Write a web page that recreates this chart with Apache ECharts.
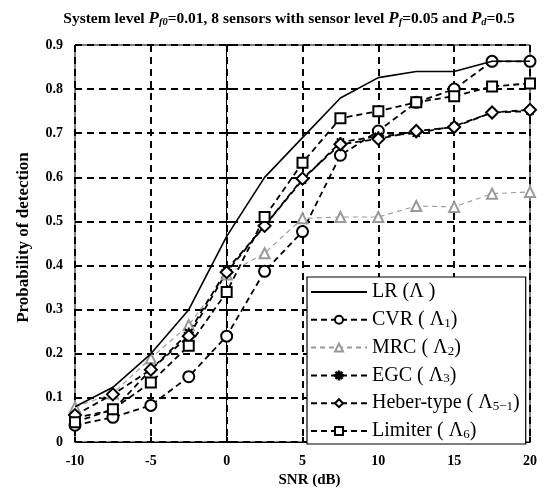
<!DOCTYPE html>
<html><head><meta charset="utf-8">
<script src="https://cdn.jsdelivr.net/npm/echarts@6/dist/echarts.min.js"></script>
<style>html,body{margin:0;padding:0;background:#fff}#c{width:548px;height:493px}</style>
</head><body><div id="c"></div>
<script>
const snr = [-10, -7.5, -5, -2.5, 0, 2.5, 5, 7.5, 10, 12.5, 15, 17.5, 20];
const lr      = [0.08, 0.124, 0.2, 0.3, 0.466, 0.6, 0.69, 0.78, 0.826, 0.84, 0.84, 0.863, 0.863];
const cvr     = [0.038, 0.056, 0.083, 0.148, 0.24, 0.387, 0.477, 0.65, 0.705, 0.77, 0.8, 0.863, 0.863];
const mrc     = [0.079, 0.11, 0.19, 0.265, 0.38, 0.428, 0.507, 0.51, 0.51, 0.535, 0.533, 0.563, 0.567];
const egc     = [0.055, 0.072, 0.164, 0.248, 0.39, 0.49, 0.594, 0.68, 0.693, 0.7, 0.716, 0.747, 0.75];
const heber   = [0.061, 0.108, 0.164, 0.24, 0.385, 0.49, 0.597, 0.675, 0.687, 0.705, 0.714, 0.747, 0.753];
const limiter = [0.045, 0.074, 0.135, 0.218, 0.34, 0.51, 0.633, 0.734, 0.75, 0.77, 0.784, 0.806, 0.813];
const yTicks = ['0', '0.1', '0.2', '0.3', '0.4', '0.5', '0.6', '0.7', '0.8', '0.9'];
const names = ['LR', 'CVR', 'MRC', 'EGC', 'Heber', 'Limiter'];

const pair = arr => snr.map((x, i) => [x, arr[i]]);
const star = 'path://M-0.8,-10 L0.8,-10 L0.8,10 L-0.8,10 Z M-10,-0.8 L10,-0.8 L10,0.8 L-10,0.8 Z M-7.6,-6.5 L-6.5,-7.6 L7.6,6.5 L6.5,7.6 Z M6.5,-7.6 L7.6,-6.5 L-6.5,7.6 L-7.6,6.5 Z';
const serif = '"Liberation Serif", "DejaVu Serif", serif';

function mk(name, data, opts) {
  return Object.assign({
    name: name, type: 'line', data: pair(data),
    symbolSize: 10, showSymbol: true,
    lineStyle: {color: '#000', width: 1.8, type: [6, 4]},
    itemStyle: {color: '#000', borderColor: '#000', borderWidth: 1.2},
    z: 3
  }, opts);
}

const chart = echarts.init(document.getElementById('c'));
chart.setOption({
  animation: false,
  backgroundColor: '#fff',
  title: {
    text: '{b|System level }{i|P}{s|f0}{b|=0.01, 8 sensors with sensor level }{i|P}{s|f}{b|=0.05 and }{i|P}{s|d}{b|=0.5}',
    left: 284, top: 5, textAlign: 'center',
    textStyle: {
      rich: {
        b: {fontFamily: serif, fontWeight: 'bold', fontSize: 15.5, color: '#000'},
        i: {fontFamily: serif, fontWeight: 'bold', fontStyle: 'italic', fontSize: 17, color: '#000'},
        s: {fontFamily: serif, fontWeight: 'bold', fontStyle: 'italic', fontSize: 10.5, color: '#000', verticalAlign: 'bottom', padding: [7, 0, 0, 0]}
      }
    }
  },
  grid: {left: 75, right: 18, top: 45, bottom: 48, show: true, borderColor: '#000', borderWidth: 1},
  xAxis: {
    type: 'value', min: -10, max: 20, interval: 5,
    name: 'SNR (dB)', nameLocation: 'middle', nameGap: 31,
    nameTextStyle: {fontFamily: serif, fontWeight: 'bold', fontSize: 15, color: '#000', padding: [0, 0, 0, 14]},
    axisLine: {lineStyle: {color: '#000', width: 1}},
    axisTick: {inside: true, length: 5, lineStyle: {color: '#000', width: 2}},
    axisLabel: {fontFamily: serif, fontWeight: 'bold', fontSize: 14, color: '#000', margin: 12},
    splitLine: {show: true, lineStyle: {color: '#000', width: 2, type: [7, 5]}}
  },
  yAxis: {
    type: 'value', min: 0, max: 0.9, interval: 0.1,
    name: 'Probability of detection', nameLocation: 'middle', nameGap: 43, nameRotate: 90,
    nameTextStyle: {fontFamily: serif, fontWeight: 'bold', fontSize: 17, color: '#000', padding: [0, 0, 0, 12]},
    axisLine: {lineStyle: {color: '#000', width: 1}},
    axisTick: {inside: true, length: 5, lineStyle: {color: '#000', width: 2}},
    axisLabel: {fontFamily: serif, fontWeight: 'bold', fontSize: 14, color: '#000', margin: 12,
      formatter: (v) => yTicks[Math.round(v * 10)]},
    splitLine: {show: true, lineStyle: {color: '#000', width: 2, type: [7, 5]}}
  },
  legend: {
    orient: 'vertical', left: 307, top: 277,
    backgroundColor: '#fff', borderColor: '#000', borderWidth: 1.2,
    padding: [5, 6, 3, 3], itemGap: 6.8, itemWidth: 56, itemHeight: 10,
    data: [{name: 'LR', itemStyle: {opacity: 0}}, 'CVR', 'MRC', 'EGC', 'Heber', 'Limiter'],
    formatter: function (n) {
      const m = {
        LR: 'LR (Λ )',
        CVR: 'CVR ( Λ{s|1})',
        MRC: 'MRC ( Λ{s|2})',
        EGC: 'EGC ( Λ{s|3})',
        Heber: 'Heber-type ( Λ{s|5−1})',
        Limiter: 'Limiter ( Λ{s|6})'
      };
      return m[n];
    },
    textStyle: {fontFamily: serif, fontSize: 20, lineHeight: 20, color: '#000',
      rich: {s: {fontFamily: serif, fontSize: 13, lineHeight: 20, color: '#000', verticalAlign: 'bottom', padding: [8, 0, 0, 0]}}}
  },
  series: [
    mk('LR', lr, {showSymbol: false, symbol: 'circle', lineStyle: {color: '#000', width: 1.6, type: 'solid'}, z: 4}),
    mk('CVR', cvr, {symbol: 'emptyCircle', symbolSize: 11}),
    mk('MRC', mrc, {symbol: 'emptyTriangle', symbolSize: 10,
      lineStyle: {color: '#999', width: 1.1, type: [5, 4]},
      itemStyle: {color: '#999', borderColor: '#999', borderWidth: 1}}),
    mk('EGC', egc, {symbol: star, symbolSize: 9}),
    mk('Heber', heber, {symbol: 'emptyDiamond', symbolSize: 12}),
    mk('Limiter', limiter, {symbol: 'emptyRect', symbolSize: 10})
  ]
});
</script></body></html>
